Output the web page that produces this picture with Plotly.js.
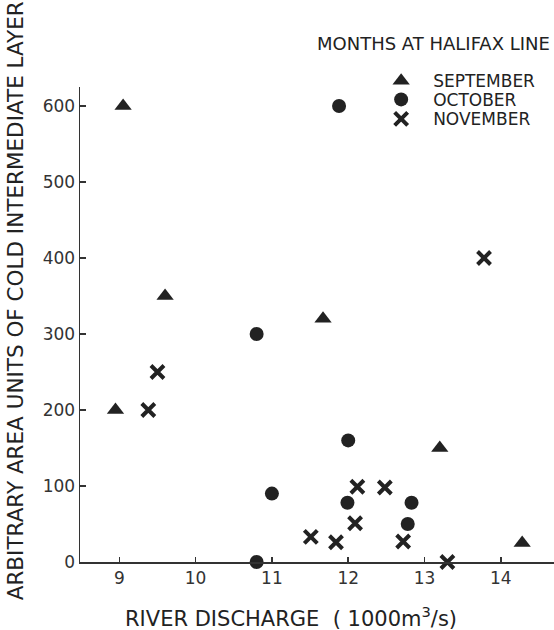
<!DOCTYPE html>
<html>
<head>
<meta charset="utf-8">
<script src="https://cdn.plot.ly/plotly-3.0.1.min.js"></script>
<style>
  html, body { margin: 0; padding: 0; background: #fff; }
  #chart { width: 554px; height: 630px; }
</style>
</head>
<body>
<div id="chart"></div>
<script>
// September (triangles)
const septX = [9.05, 8.95, 9.6, 11.67, 13.2, 14.28];
const septY = [600, 200, 350, 320, 150, 25];
// October (circles)
const octX = [11.88, 10.8, 12.0, 11.0, 11.99, 12.83, 12.78, 10.8];
const octY = [600, 300, 160, 90, 78, 78, 50, 0];
// November (crosses)
const novX = [9.5, 9.38, 11.51, 11.84, 12.09, 12.12, 12.48, 12.72, 13.3, 13.78];
const novY = [250, 200, 33, 26, 51, 99, 98, 27, 0, 400];

const xTicks = [9, 10, 11, 12, 13, 14];
const xTickLabels = ['9', '10', '11', '12', '13', '14'];
const yTicks = [0, 100, 200, 300, 400, 500, 600];
const yTickLabels = ['0', '100', '200', '300', '400', '500', '600'];

const ink = '#222';
const FONT = 'DejaVu Sans, Liberation Sans, sans-serif';

const traces = [
  {
    x: septX, y: septY, type: 'scatter', mode: 'markers', name: 'SEPTEMBER',
    legend: 'legend',
    marker: { symbol: 'triangle-up', size: 15, color: ink },
    cliponaxis: false
  },
  {
    x: octX, y: octY, type: 'scatter', mode: 'markers', name: 'OCTOBER',
    legend: 'legend2',
    marker: { symbol: 'circle', size: 14, color: ink },
    cliponaxis: false
  },
  {
    x: novX, y: novY, type: 'scatter', mode: 'markers', name: 'NOVEMBER',
    legend: 'legend3',
    marker: { symbol: 'x-thin', size: 13, color: ink, line: { color: ink, width: 4 } },
    cliponaxis: false
  }
];

const legendBase = {
  xanchor: 'left', yanchor: 'middle', x: 0.610,
  bgcolor: 'rgba(0,0,0,0)', borderwidth: 0,
  font: { family: FONT, size: 17, color: ink },
  itemwidth: 54
};

const layout = {
  width: 554, height: 630,
  margin: { l: 80, r: 0, t: 87, b: 68 },
  paper_bgcolor: '#fff', plot_bgcolor: '#fff',
  showlegend: true,
  legend: Object.assign({}, legendBase, { y: 1.012 }),
  legend2: Object.assign({}, legendBase, { y: 0.973 }),
  legend3: Object.assign({}, legendBase, { y: 0.932 }),
  xaxis: {
    range: [8.485, 14.697],
    tickmode: 'array', tickvals: xTicks, ticktext: xTickLabels,
    ticks: 'inside', ticklen: 5, tickwidth: 1.5, tickcolor: '#333',
    showline: true, linecolor: '#333', linewidth: 1.5,
    showgrid: false, zeroline: false,
    tickfont: { family: FONT, size: 17, color: '#333' }
  },
  yaxis: {
    range: [0, 625],
    tickmode: 'array', tickvals: yTicks, ticktext: yTickLabels,
    ticks: 'inside', ticklen: 6, tickwidth: 1.5, tickcolor: '#333',
    showline: true, linecolor: '#333', linewidth: 1.5,
    showgrid: false, zeroline: false,
    tickfont: { family: FONT, size: 17, color: '#333' }
  },
  annotations: [
    {
      text: 'ARBITRARY AREA UNITS OF COLD INTERMEDIATE LAYER',
      xref: 'paper', yref: 'paper', x: -0.137, y: 0.549,
      xanchor: 'center', yanchor: 'middle', textangle: -90, showarrow: false,
      font: { family: FONT, size: 21.5, color: ink }
    },
    {
      text: 'RIVER DISCHARGE  ( 1000m<sup>3</sup>/s)',
      xref: 'paper', yref: 'paper', x: 0.445, y: -0.116,
      xanchor: 'center', yanchor: 'middle', showarrow: false,
      font: { family: FONT, size: 21, color: ink }
    },
    {
      text: 'MONTHS AT HALIFAX LINE',
      xref: 'paper', yref: 'paper', x: 0.745, y: 1.091,
      xanchor: 'center', yanchor: 'middle', showarrow: false,
      font: { family: FONT, size: 18, color: ink }
    }
  ]
};

Plotly.newPlot('chart', traces, layout, { displayModeBar: false, staticPlot: true });
</script>
</body>
</html>
